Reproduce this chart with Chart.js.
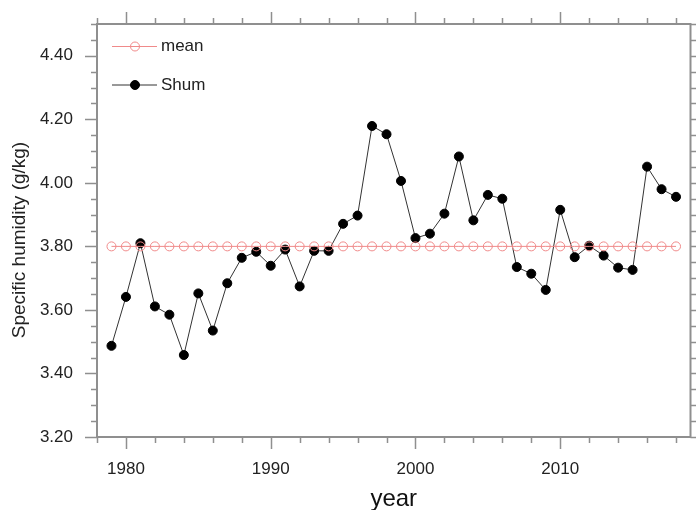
<!DOCTYPE html>
<html>
<head>
<meta charset="utf-8">
<script src="https://cdn.jsdelivr.net/npm/chart.js@4.4.0/dist/chart.umd.min.js"></script>
<style>
  html, body { margin: 0; padding: 0; background: #fff; }
</style>
</head>
<body>
<canvas id="shumChart" width="696" height="510"></canvas>
<script>
// annual specific humidity series (g/kg)
const years = [
    1979, 1980, 1981, 1982, 1983, 1984, 1985, 1986, 1987, 1988,
    1989, 1990, 1991, 1992, 1993, 1994, 1995, 1996, 1997, 1998,
    1999, 2000, 2001, 2002, 2003, 2004, 2005, 2006, 2007, 2008,
    2009, 2010, 2011, 2012, 2013, 2014, 2015, 2016, 2017, 2018,
];
const shum = [
    3.487, 3.641, 3.810, 3.611, 3.585, 3.458, 3.652, 3.535, 3.684, 3.764,
    3.783, 3.739, 3.790, 3.674, 3.786, 3.786, 3.871, 3.897, 4.179, 4.153,
    4.006, 3.826, 3.840, 3.903, 4.083, 3.882, 3.962, 3.950, 3.735, 3.714,
    3.663, 3.915, 3.766, 3.802, 3.771, 3.733, 3.726, 4.051, 3.980, 3.956,
];
const mean = [
    3.80, 3.80, 3.80, 3.80, 3.80, 3.80, 3.80, 3.80, 3.80, 3.80,
    3.80, 3.80, 3.80, 3.80, 3.80, 3.80, 3.80, 3.80, 3.80, 3.80,
    3.80, 3.80, 3.80, 3.80, 3.80, 3.80, 3.80, 3.80, 3.80, 3.80,
    3.80, 3.80, 3.80, 3.80, 3.80, 3.80, 3.80, 3.80, 3.80, 3.80,
];
const xTickLabels = [1980, 1990, 2000, 2010];
const yTickLabels = [3.2, 3.4, 3.6, 3.8, 4.0, 4.2, 4.4];

const FONT = "'Liberation Sans', Arial, Helvetica, sans-serif";
const TEXT = "#222";
const AXIS = "#8f8f8f";
const MEAN_COLOR = "#f08a8a";

const toPoints = (xs, ys) => xs.map((x, i) => ({ x: x, y: ys[i] }));

// frame with outward major/minor ticks on all four sides
const frameTicks = {
    id: "frameTicks",
    afterDraw(chart) {
        const ctx = chart.ctx;
        const area = chart.chartArea;
        const xs = chart.scales.x;
        const ys = chart.scales.y;

        ctx.save();
        ctx.strokeStyle = AXIS;
        ctx.lineWidth = 2;
        ctx.strokeRect(area.left, area.top, area.right - area.left, area.bottom - area.top);

        ctx.lineWidth = 1.5;
        ctx.beginPath();
        for (let v = xs.min; v <= xs.max; v += 2) {
            const px = Math.round(xs.getPixelForValue(v)) + 0.5;
            const len = v % 10 === 0 ? 12 : 6;
            ctx.moveTo(px, area.bottom);
            ctx.lineTo(px, area.bottom + len);
            ctx.moveTo(px, area.top);
            ctx.lineTo(px, area.top - len);
        }
        for (let i = 0; i <= 26; i++) {
            const v = 3.2 + i * 0.05;
            const py = Math.round(ys.getPixelForValue(v)) + 0.5;
            const len = i % 4 === 0 ? 12 : 6;
            ctx.moveTo(area.left, py);
            ctx.lineTo(area.left - len, py);
            ctx.moveTo(area.right, py);
            ctx.lineTo(area.right + len, py);
        }
        ctx.stroke();

        // y axis title
        ctx.fillStyle = TEXT;
        ctx.font = "19px " + FONT;
        ctx.textAlign = "center";
        ctx.textBaseline = "middle";
        ctx.translate(20, 240);
        ctx.rotate(-Math.PI / 2);
        ctx.fillText("Specific humidity (g/kg)", 0, 0);
        ctx.restore();
    },
};

// legend in the upper left corner of the plot
const cornerLegend = {
    id: "cornerLegend",
    afterDraw(chart) {
        const ctx = chart.ctx;
        const rows = [
            { ds: chart.data.datasets[0], y: 46.5 },
            { ds: chart.data.datasets[1], y: 85 },
        ];
        ctx.save();
        rows.forEach((row) => {
            ctx.strokeStyle = row.ds.borderColor;
            ctx.lineWidth = 1;
            ctx.beginPath();
            ctx.moveTo(112, row.y);
            ctx.lineTo(157, row.y);
            ctx.stroke();

            ctx.beginPath();
            ctx.arc(135, row.y, row.ds.pointRadius, 0, Math.PI * 2);
            ctx.fillStyle = row.ds.pointBackgroundColor;
            ctx.fill();
            ctx.strokeStyle = row.ds.pointBorderColor;
            ctx.stroke();

            ctx.fillStyle = TEXT;
            ctx.font = "17px " + FONT;
            ctx.textAlign = "left";
            ctx.textBaseline = "middle";
            ctx.fillText(row.ds.label, 161, row.y);
        });
        ctx.restore();
    },
};

new Chart(document.getElementById("shumChart"), {
    type: "line",
    data: {
        datasets: [
            {
                label: "mean",
                data: toPoints(years, mean),
                borderColor: MEAN_COLOR,
                borderWidth: 1,
                pointRadius: 4.5,
                pointBorderWidth: 1,
                pointBorderColor: MEAN_COLOR,
                pointBackgroundColor: "rgba(255,255,255,0)",
            },
            {
                label: "Shum",
                data: toPoints(years, shum),
                borderColor: "#333",
                borderWidth: 1,
                pointRadius: 4.5,
                pointBorderWidth: 1,
                pointBorderColor: "#000",
                pointBackgroundColor: "#000",
                tension: 0,
            },
        ],
    },
    options: {
        responsive: false,
        animation: false,
        devicePixelRatio: 1,
        layout: { padding: { left: 0, right: 4, top: 24, bottom: 0 } },
        plugins: {
            legend: { display: false },
            tooltip: { enabled: false },
        },
        scales: {
            x: {
                type: "linear",
                min: 1978,
                max: 2019,
                grid: { display: false },
                border: { display: false },
                afterBuildTicks: (scale) => {
                    scale.ticks = xTickLabels.map((v) => ({ value: v }));
                },
                afterFit: (scale) => {
                    scale.height = 73;
                },
                ticks: {
                    color: TEXT,
                    font: { family: FONT, size: 17 },
                    padding: 14,
                    maxRotation: 0,
                    callback: (v) => String(v),
                },
                title: {
                    display: true,
                    text: "year",
                    color: "#111",
                    font: { family: FONT, size: 24, lineHeight: 0.9 },
                    padding: { top: 0, bottom: 0 },
                },
            },
            y: {
                min: 3.2,
                max: 4.5,
                // transparent tick marks only reserve the gap before the labels
                grid: {
                    display: true,
                    drawOnChartArea: false,
                    drawTicks: true,
                    tickLength: 21,
                    tickColor: "rgba(0,0,0,0)",
                },
                border: { display: false },
                afterBuildTicks: (scale) => {
                    scale.ticks = yTickLabels.map((v) => ({ value: v }));
                },
                afterFit: (scale) => {
                    scale.width = 97;
                },
                ticks: {
                    color: TEXT,
                    font: { family: FONT, size: 17 },
                    padding: 3,
                    callback: (v) => Number(v).toFixed(2),
                },
            },
        },
    },
    plugins: [frameTicks, cornerLegend],
});
</script>
</body>
</html>
